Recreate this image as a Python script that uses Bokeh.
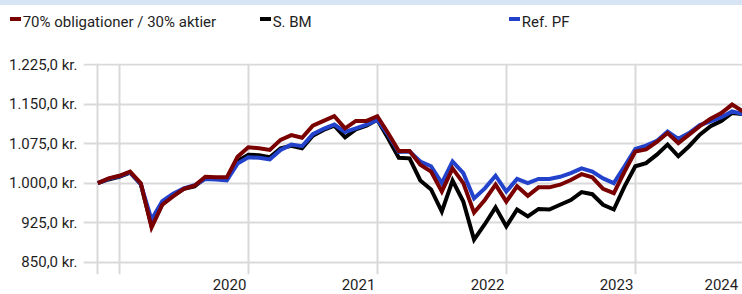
from bokeh.plotting import figure
from bokeh.models import Range1d, FixedTicker, ColumnDataSource, Div
from bokeh.layouts import column
from bokeh.embed import file_html
from bokeh.resources import INLINE

# ---------------- data ----------------
series_names = ["70% obligationer / 30% aktier", "S. BM", "Ref. PF"]

pf_70_30 = [1000, 1009, 1014, 1022, 1000, 916, 959, 975, 989, 995,
            1012, 1011, 1011, 1050, 1068, 1066, 1063, 1082, 1091, 1086,
            1109, 1118, 1127, 1104, 1118, 1118, 1127, 1095, 1061, 1061,
            1035, 1022, 984, 1028, 1000, 944, 968, 997, 965, 994,
            976, 992, 992, 997, 1006, 1017, 1011, 989, 981, 1022,
            1060, 1064, 1078, 1095, 1076, 1092, 1108, 1122, 1133, 1149,
            1136]
s_bm = [1000, 1007, 1012, 1020, 998, 919, 960, 976, 989, 994,
        1010, 1009, 1007, 1042, 1054, 1053, 1049, 1066, 1071, 1066,
        1090, 1101, 1109, 1087, 1102, 1109, 1120, 1085, 1048, 1047,
        1005, 988, 946, 1005, 965, 893, 922, 954, 918, 950,
        937, 951, 950, 959, 968, 983, 979, 959, 950, 994,
        1032, 1038, 1054, 1073, 1051, 1070, 1092, 1108, 1118, 1133,
        1131]
ref_pf = [1000, 1008, 1013, 1021, 998, 931, 966, 980, 990, 996,
          1008, 1007, 1005, 1037, 1049, 1048, 1045, 1063, 1073, 1070,
          1093, 1103, 1111, 1097, 1104, 1111, 1120, 1092, 1059, 1060,
          1041, 1032, 1000, 1041, 1019, 971, 990, 1014, 984, 1008,
          1000, 1008, 1008, 1012, 1019, 1028, 1022, 1009, 1000, 1032,
          1065, 1071, 1080, 1098, 1084, 1095, 1110, 1117, 1125, 1136,
          1131]
months = list(range(len(pf_70_30)))

year_labels = ["2020", "2021", "2022", "2023", "2024"]
year_label_pos = [12.25, 24.25, 36.25, 48.25, 58.0]
year_grid_pos = [0, 2, 14, 26, 38, 50]

y_ticks = [850, 925, 1000, 1075, 1150, 1225]
y_tick_labels = ["850,0 kr.", "925,0 kr.", "1.000,0 kr.", "1.075,0 kr.",
                 "1.150,0 kr.", "1.225,0 kr."]

colors = ["#7a0000", "#000000", "#2342cc"]

FONT = "Roboto"
FSIZE = "15px"
TEXT_COLOR = "#1e1e1e"
GRID_COLOR = "#d9d9d9"
W = 742

# ---------------- legend strip (HTML) ----------------
item_left = [10, 260, 509]
parts = ['<div style="position:relative;width:%dpx;height:55px;'
         'font-family:Roboto;font-size:%s;color:%s;">' % (W, FSIZE, TEXT_COLOR),
         '<div style="position:absolute;left:0;top:0;width:%dpx;height:5px;'
         'background:#d7e4f6;"></div>' % W]
for name, col, left in zip(series_names, colors, item_left):
    parts.append('<div style="position:absolute;left:%dpx;top:17px;width:11px;'
                 'height:4px;background:%s;"></div>' % (left, col))
    parts.append('<div style="position:absolute;left:%.1fpx;top:13.5px;'
                 'line-height:17px;white-space:nowrap;">%s</div>' % (left + 12.7, name))
parts.append('</div>')
leg = Div(text="".join(parts), width=W, height=55, margin=0)

# ---------------- main chart ----------------
p = figure(width=W, height=239, output_backend="svg", toolbar_location=None,
           x_range=Range1d(-1.33, 59.97), y_range=Range1d(826.7, 1226.9),
           min_border_left=83, min_border_right=0, min_border_top=8,
           min_border_bottom=20, margin=0)
p.outline_line_color = None
p.background_fill_color = "white"

p.xaxis.ticker = FixedTicker(ticks=year_label_pos)
p.xaxis.major_label_overrides = {pos: lab for pos, lab in zip(year_label_pos, year_labels)}
p.yaxis.ticker = FixedTicker(ticks=y_ticks)
p.yaxis.major_label_overrides = {t: lab for t, lab in zip(y_ticks, y_tick_labels)}

for ax in (p.xaxis, p.yaxis):
    ax.axis_line_color = None
    ax.major_tick_line_color = None
    ax.minor_tick_line_color = None
    ax.major_tick_in = 0
    ax.major_tick_out = 0
    ax.major_label_text_font = FONT
    ax.major_label_text_font_size = FSIZE
    ax.major_label_text_color = TEXT_COLOR
p.yaxis.major_label_standoff = 6
p.xaxis.major_label_standoff = 4

p.xgrid.ticker = FixedTicker(ticks=year_grid_pos)
p.ygrid.ticker = FixedTicker(ticks=y_ticks)
for g in (p.xgrid, p.ygrid):
    g.grid_line_color = GRID_COLOR
    g.grid_line_width = 2

src = ColumnDataSource(dict(m=months, a=pf_70_30, b=s_bm, c=ref_pf))
p.line("m", "b", source=src, line_color=colors[1], line_width=4, line_join="miter")
p.line("m", "c", source=src, line_color=colors[2], line_width=4, line_join="miter")
p.line("m", "a", source=src, line_color=colors[0], line_width=4, line_join="miter")

layout = column(leg, p, spacing=0)
open("out.html", "w").write(file_html(layout, INLINE))
